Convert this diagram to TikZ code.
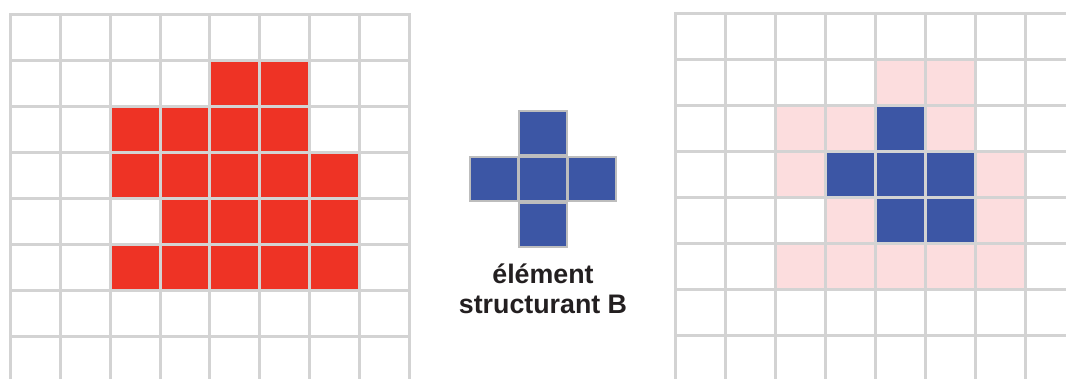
\documentclass[tikz,border=0pt]{standalone}
\usepackage{fontspec}
\setmainfont{Liberation Sans}
\definecolor{gridgray}{HTML}{D3D3D3}
\definecolor{cellred}{HTML}{EE3325}
\definecolor{cellblue}{HTML}{3C56A5}
\definecolor{cellpink}{HTML}{FCDDDE}
\definecolor{seborder}{HTML}{BDBDBD}
\definecolor{textdark}{HTML}{231F20}
\begin{document}
\begin{tikzpicture}[x=1pt,y=-1pt,
  gridline/.style={draw=gridgray,line width=3pt,line cap=rect},
  redcell/.style={fill=cellred},
  pinkcell/.style={fill=cellpink},
  bluecell/.style={fill=cellblue},
  sebox/.style={rectangle,fill=cellblue,draw=seborder,line width=1.5pt,
    minimum width=48pt,minimum height=44pt,inner sep=0pt},
  lbl/.style={anchor=base,text=textdark,inner sep=0pt,
    font=\bfseries\fontsize{26.8}{30}\selectfont}]
\useasboundingbox (0,0) rectangle (1066,379);
\clip (0,0) rectangle (1066,379);
% left grid: set X
\begin{scope}[shift={(10.7,15)},x=49.8pt,y=-46pt]
  \foreach \c/\r in {4/1,5/1,2/2,3/2,4/2,5/2,2/3,3/3,4/3,5/3,6/3,3/4,4/4,5/4,6/4,2/5,3/5,4/5,5/5,6/5}
    \fill[redcell] (\c,\r) rectangle (\c+1,\r+1);
  \foreach \i in {0,...,8} \draw[gridline] (\i,0) -- (\i,8);
  \foreach \j in {0,...,8} \draw[gridline] (0,\j) -- (8,\j);
\end{scope}
% right grid: erosion
\begin{scope}[shift={(675.5,13.3)},x=49.95pt,y=-46.1pt]
  \foreach \c/\r in {4/1,5/1,2/2,3/2,5/2,2/3,6/3,3/4,6/4,2/5,3/5,4/5,5/5,6/5}
    \fill[pinkcell] (\c,\r) rectangle (\c+1,\r+1);
  \foreach \i in {0,...,8} \draw[gridline] (\i,0) -- (\i,8);
  \foreach \j in {0,...,8} \draw[gridline] (0,\j) -- (8,\j);
  \foreach \c/\r in {4/2,3/3,4/3,5/3,4/4,5/4}
    \fill[bluecell] (\c+0.03,\r+0.035) rectangle (\c+0.97,\r+0.965);
\end{scope}
% structuring element B
\node[sebox] (bc) at (543,179) {};
\node[sebox] (bt) at (543,133) {};
\node[sebox] (bb) at (543,225) {};
\node[sebox] (bl) at (494,179) {};
\node[sebox] (br) at (592,179) {};
\node[lbl] (l1) at (543,283.3) {élément};
\node[lbl] (l2) at (543,313.3) {structurant B};
\end{tikzpicture}
\end{document}
